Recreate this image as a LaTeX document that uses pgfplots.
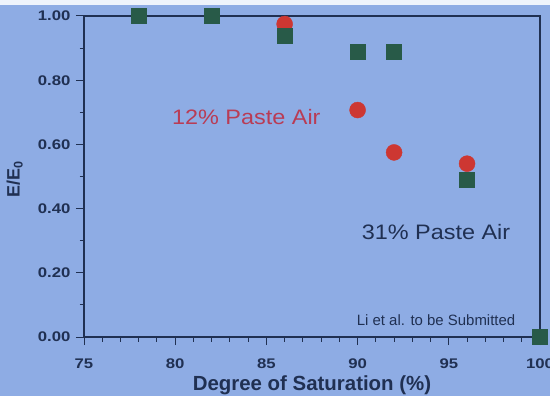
\documentclass[border=0pt]{standalone}
\usepackage{fontspec}
\setmainfont{Liberation Sans}
\newfontfamily\widefont{Liberation Sans}[FakeStretch=1.2]
\newfontfamily\midfont{Liberation Sans}[FakeStretch=1.12]
\usepackage{pgfplots}
\pgfplotsset{compat=1.18}
\definecolor{bg}{RGB}{142,172,228}
\definecolor{navy}{RGB}{32,48,82}
\definecolor{sqgreen}{RGB}{40,90,72}
\definecolor{circred}{RGB}{205,55,50}
\definecolor{txtred}{RGB}{185,60,85}
\begin{document}
\begin{tikzpicture}[x=1bp,y=1bp]
\useasboundingbox (0,0) rectangle (550,396);
\fill[bg] (0,0) rectangle (550,396);
\fill[white!85!bg] (0,391) rectangle (550,396);
\begin{axis}[
  at={(84bp,59bp)}, anchor=south west,
  scale only axis, width=456bp, height=321bp,
  xmin=75, xmax=100, ymin=0, ymax=1,
  clip=false,
  axis line style={navy, line width=1.2pt},
  every tick/.style={navy, line width=1pt},
  tick align=outside, tick pos=left,
  major tick length=8bp, minor tick length=4.5bp,
  xtick={75,80,...,100}, minor x tick num=4,
  ytick={0,0.2,...,1.01}, minor y tick num=1,
  /pgf/number format/assume math mode=true,
  yticklabel style={/pgf/number format/fixed, /pgf/number format/fixed zerofill, /pgf/number format/precision=2, font=\widefont\bfseries\fontsize{14}{14}\selectfont, text=navy, xshift=-2bp},
  xticklabel style={font=\widefont\bfseries\fontsize{14}{14}\selectfont, text=navy, yshift=-10bp},
  xlabel={\textbf{Degree of Saturation (\%)}},
  xlabel style={font=\fontsize{20.5}{20.5}\selectfont, text=navy, at={(axis description cs:0.5,-0.150)}, anchor=center},
  ylabel={\textbf{E/E\textsubscript{0}}},
  ylabel style={font=\fontsize{18}{18}\selectfont, text=navy, at={(axis description cs:-0.152,0.49)}, anchor=center},
]
\addplot[only marks, mark=*, mark size=8bp, color=circred] coordinates {
  (86,0.975) (90,0.707) (92,0.575) (96,0.540)
};
\addplot[only marks, mark=square*, mark size=7.5bp, color=sqgreen] coordinates {
  (78,1.00) (82,1.00) (86,0.94) (90,0.888) (92,0.888) (96,0.489) (100,0.00)
};
\node[text=txtred, font=\midfont\fontsize{21}{21}\selectfont] at (axis cs:83.9,0.685) {12\% Paste Air};
\node[text=navy, font=\midfont\fontsize{21}{21}\selectfont] at (axis cs:94.3,0.327) {31\% Paste Air};
\node[text=navy, font=\fontsize{15}{15}\selectfont] at (axis cs:94.3,0.053) {Li et al. to be Submitted};
\end{axis}
\end{tikzpicture}
\end{document}
